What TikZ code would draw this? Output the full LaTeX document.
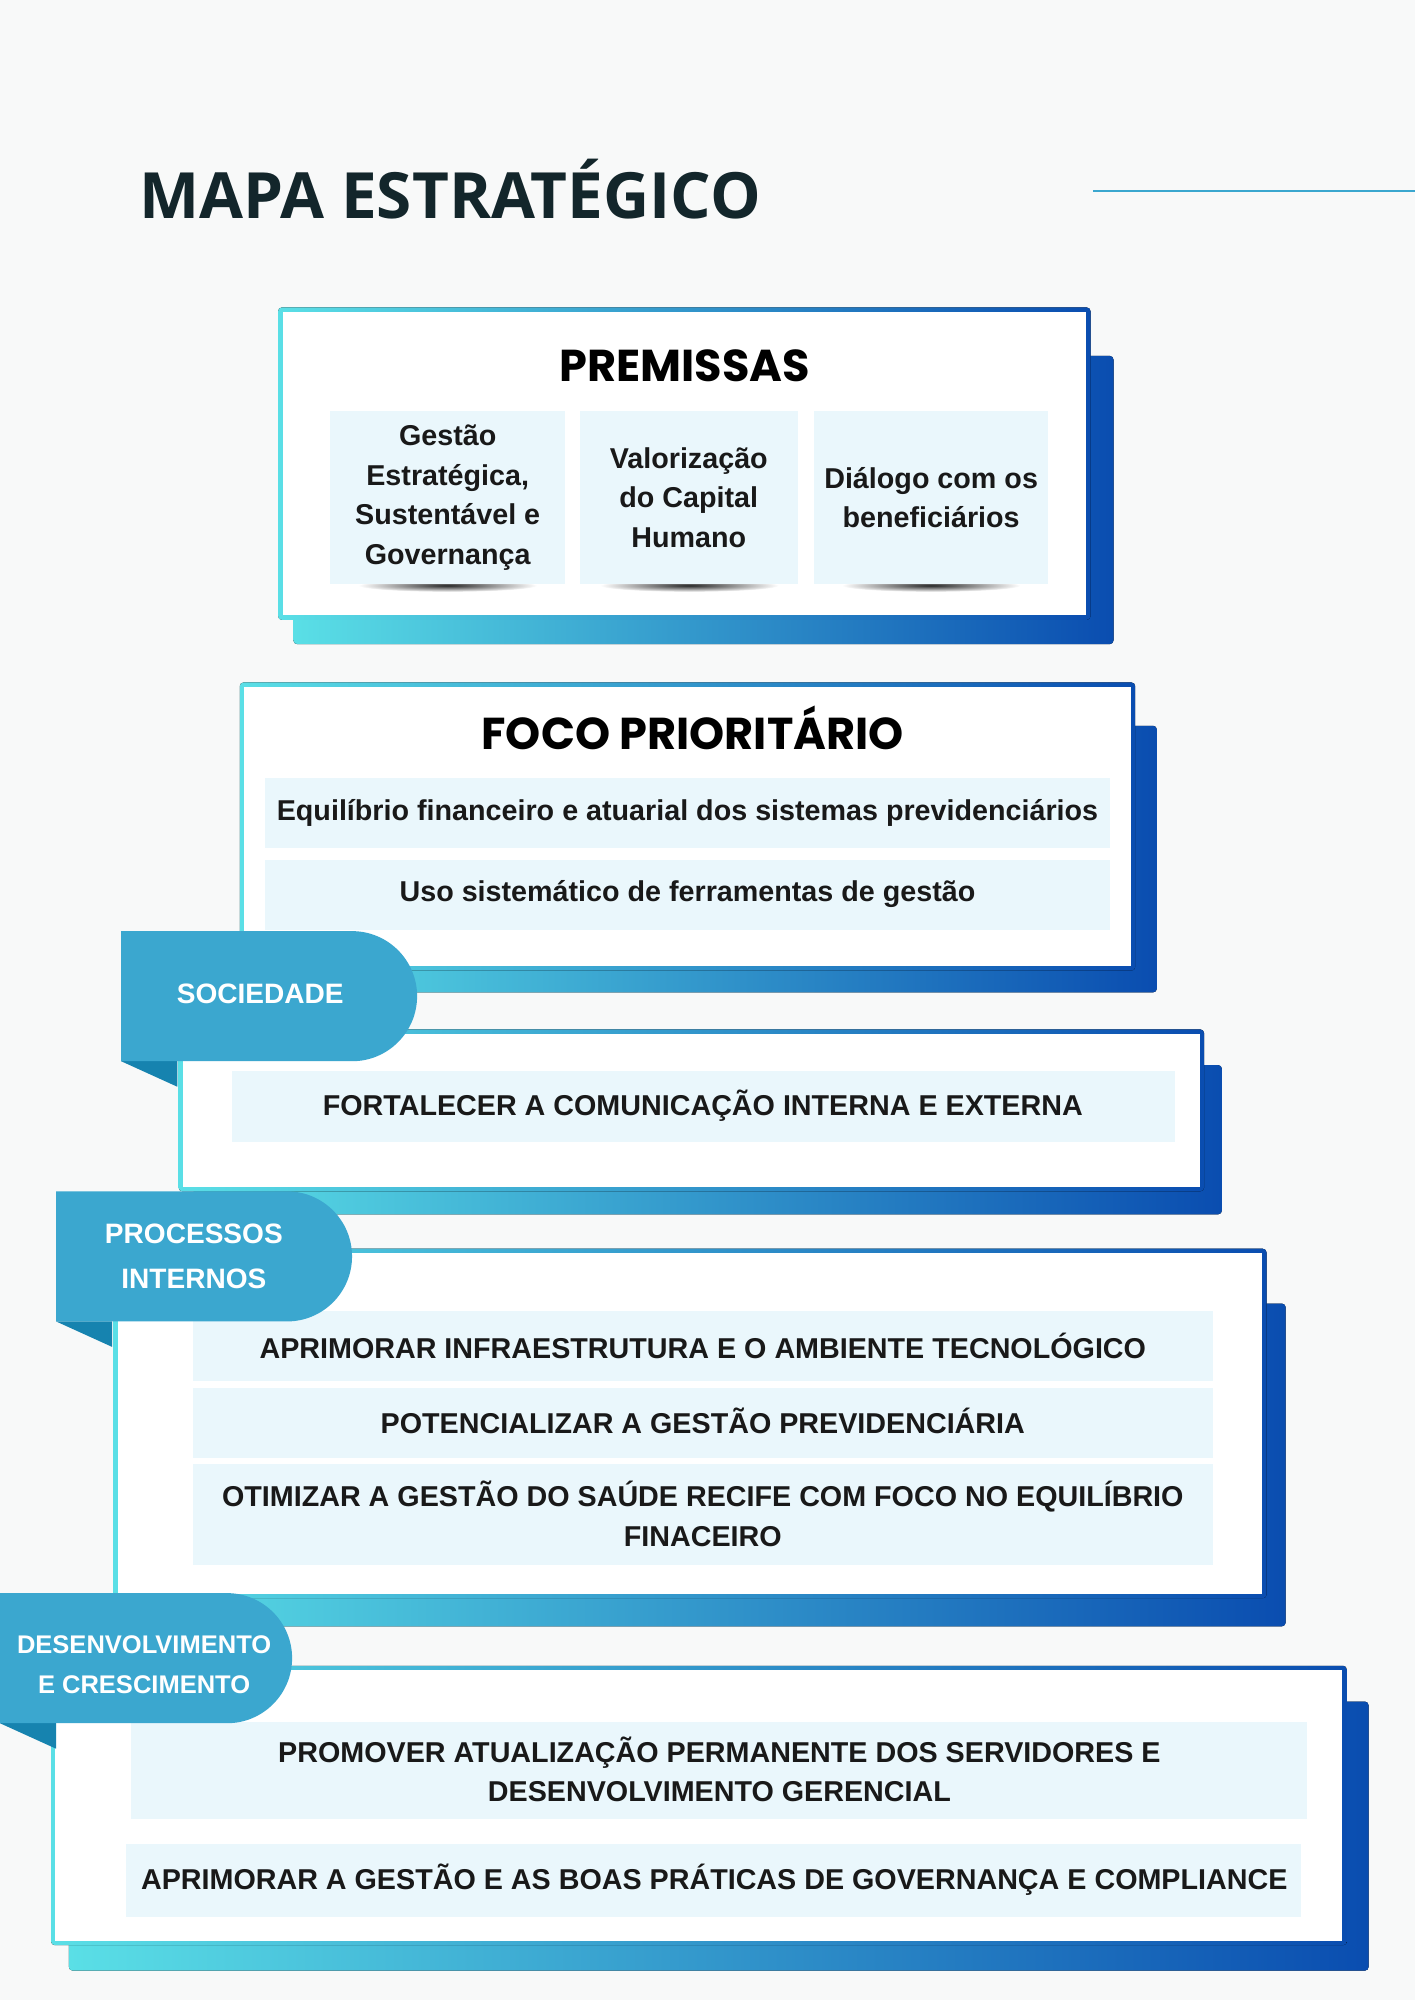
\documentclass[tikz,border=0pt]{standalone}
\usepackage{fontspec}
\setmainfont{Liberation Sans}
\newfontfamily\headfont{Poppins}
\newfontfamily\titlefont{Open Sans}
\usetikzlibrary{positioning}
\definecolor{bgpage}{HTML}{F8F9F9}
\definecolor{cellbg}{HTML}{EAF7FC}
\definecolor{tabblue}{HTML}{3BA7CF}
\definecolor{folddark}{HTML}{1683AF}
\definecolor{gradA}{HTML}{5ADFE6}
\definecolor{gradB}{HTML}{0A4DB0}
\definecolor{titlecol}{HTML}{13262B}
\tikzset{
  cell/.style={fill=cellbg, draw=none},
  celltext/.style={font=\bfseries\fontsize{22.5}{31}\selectfont, align=center, text=black!90},
  tabtext/.style={font=\bfseries\fontsize{22}{35}\selectfont, align=center, text=white},
  headtext/.style={font=\headfont\bfseries\fontsize{35}{40}\selectfont},
  shadowbox/.style={left color=gradA, right color=gradB},
}
% block: shadow, gradient frame, white inside
\newcommand{\mapblock}[8]{%
  \fill[shadowbox, rounded corners=3pt] (#5,#6) rectangle (#7,#8);
  \fill[shadowbox, rounded corners=3pt] (#1,#2) rectangle (#3,#4);
  \fill[white] (#1+3.5,#2+3.5) rectangle (#3-3.5,#4-3.5);
}
\newcommand{\maptab}[4]{%
  \fill[folddark] (#1,#4) -- (#1+44,#4+20) -- (#1+44,#4) -- cycle;
  \fill[tabblue] (#1,#4) -- (#1,#2) -- (#3-51,#2) arc[start angle=-90, end angle=90, radius=51] -- cycle;
}
\begin{document}
\begin{tikzpicture}[x=1pt, y=-1pt]
\fill[bgpage] (0,0) rectangle (1109,1568);
\useasboundingbox (0,0) rectangle (1109,1568);

\node[font=\titlefont\bfseries\fontsize{50}{54}\selectfont, text=titlecol, anchor=west] (title) at (106,148) {MAPA ESTRATÉGICO};
\coordinate (lineA) at (857,150);
\coordinate (lineB) at (1109,150);
\draw[tabblue, line width=1.5pt] (lineA) -- (lineB);

% premissas
\mapblock{218}{241}{855}{486}{230}{279}{873}{505}
\node[headtext] (premissas) at (537,287) {PREMISSAS};
\foreach \xa/\xb in {259/443, 455/626, 638/822}{
  \shade[inner color=black!85, outer color=white] ({(\xa+\xb)/2},459) ellipse [x radius=70, y radius=5];
  \fill[cell] (\xa,322) rectangle (\xb,458);
}
\node[celltext] (premA) at (351,390) {Gestão\\Estratégica,\\Sustentável e\\Governança};
\node[celltext] (premB) at (540,390) {Valorização\\do Capital\\Humano};
\node[celltext] (premC) at (730,390) {Diálogo com os\\beneficiários};

% foco prioritario
\mapblock{188}{535}{890}{761}{200}{569}{907}{778}
\node[headtext] (foco) at (543,571) {FOCO PRIORITÁRIO};
\fill[cell] (208,610) rectangle (870,665);
\fill[cell] (208,674) rectangle (870,729);
\node[celltext] (focoA) at (539,637) {Equilíbrio financeiro e atuarial dos sistemas previdenciários};
\node[celltext] (focoB) at (539,701) {Uso sistemático de ferramentas de gestão};

% sociedade
\mapblock{140}{807}{944}{934}{152}{835}{958}{952}
\fill[cell] (182,840) rectangle (921,895);
\node[celltext] (socA) at (551,867) {FORTALECER A COMUNICAÇÃO INTERNA E EXTERNA};
\maptab{95}{730}{327}{832}
\node[tabtext] (soc) at (204,779) {SOCIEDADE};

% processos internos
\mapblock{89}{979}{993}{1253}{101}{1022}{1008}{1275}
\fill[cell] (151,1028) rectangle (951,1083);
\fill[cell] (151,1088) rectangle (951,1143);
\fill[cell] (151,1148) rectangle (951,1227);
\node[celltext] (procA) at (551,1055) {APRIMORAR INFRAESTRUTURA E O AMBIENTE TECNOLÓGICO};
\node[celltext] (procB) at (551,1114) {POTENCIALIZAR A GESTÃO PREVIDENCIÁRIA};
\node[celltext] (procC) at (551,1187) {OTIMIZAR A GESTÃO DO SAÚDE RECIFE COM FOCO NO EQUILÍBRIO\\FINACEIRO};
\maptab{44}{934}{276}{1036}
\node[tabtext] (proc) at (152,985) {PROCESSOS\\INTERNOS};

% desenvolvimento e crescimento
\mapblock{40}{1306}{1056}{1525}{54}{1334}{1073}{1545}
\fill[cell] (103,1350) rectangle (1025,1426);
\fill[cell] (99,1446) rectangle (1020,1503);
\node[celltext] (desA) at (564,1387) {PROMOVER ATUALIZAÇÃO PERMANENTE DOS SERVIDORES E\\DESENVOLVIMENTO GERENCIAL};
\node[celltext] (desB) at (560,1474) {APRIMORAR A GESTÃO E AS BOAS PRÁTICAS DE GOVERNANÇA E COMPLIANCE};
\maptab{0}{1249}{229}{1351}
\node[tabtext, font=\bfseries\fontsize{20}{31}\selectfont] (des) at (113,1305) {DESENVOLVIMENTO\\E CRESCIMENTO};
\end{tikzpicture}
\end{document}
